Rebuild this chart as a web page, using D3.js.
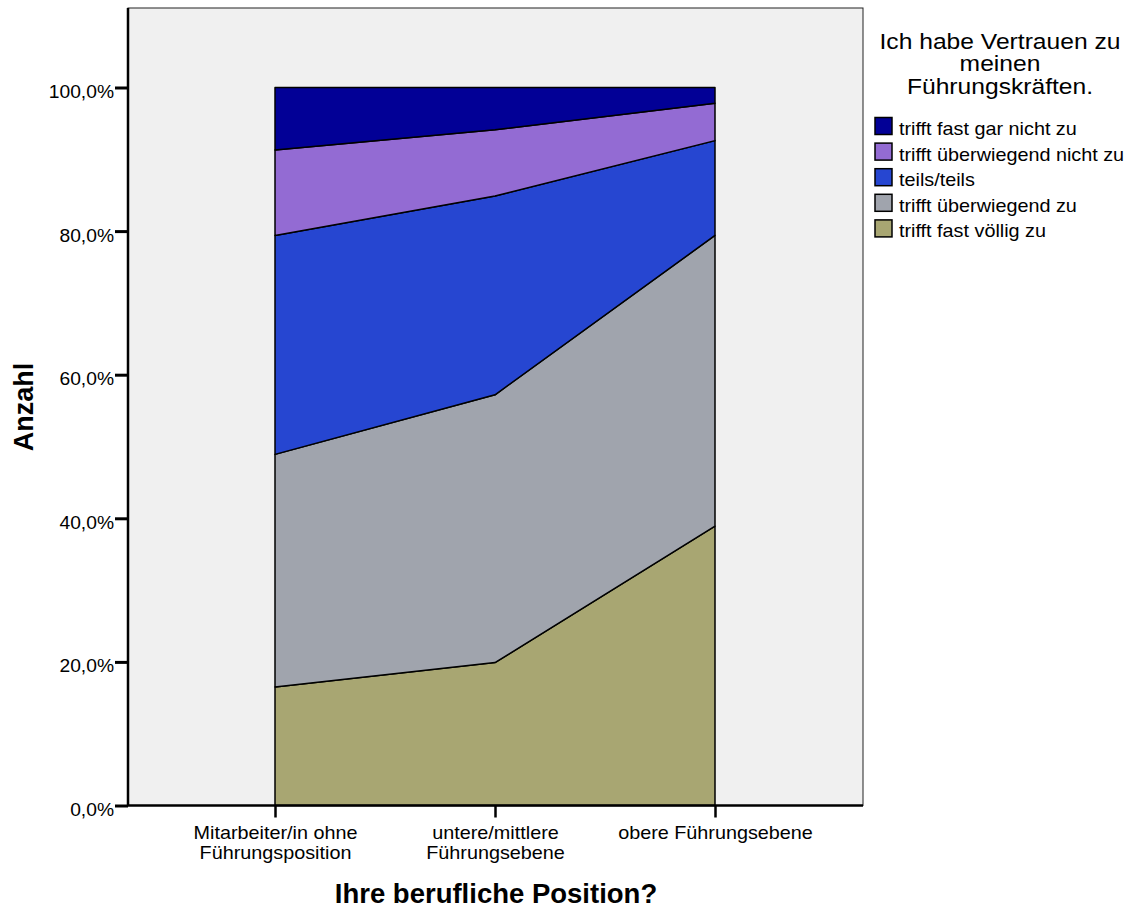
<!DOCTYPE html>
<html><head><meta charset="utf-8">
<script src="https://cdn.jsdelivr.net/npm/d3@7"></script>
<style>body{margin:0;background:#fff;font-family:"Liberation Sans",Arial,sans-serif;}</style>
</head><body><svg id="c" width="1135" height="911"></svg>
<script>
const categories = [["Mitarbeiter/in ohne","Führungsposition"],["untere/mittlere","Führungsebene"],["obere Führungsebene"]];
const seriesNames = ["trifft fast völlig zu","trifft überwiegend zu","teils/teils","trifft überwiegend nicht zu","trifft fast gar nicht zu"];
const seriesColors = ["#a8a672","#a0a4ad","#2646d1","#936bd3","#020096"];
const völligZu = [16.5, 19.9, 38.9];
const überwiegendZu = [32.4, 37.3, 40.5];
const teilsTeils = [30.5, 27.7, 13.2];
const überwiegendNicht = [11.9, 9.2, 5.2];
const fastGarNicht = [8.7, 5.9, 2.2];
const yTicks = [0,20,40,60,80,100];
const legendTitle = ["Ich habe Vertrauen zu","meinen","Führungskräften."];
const xTitle = "Ihre berufliche Position?";
const yTitle = "Anzahl";

const FONT = "Liberation Sans, Arial, sans-serif";
const seriesValues = [völligZu, überwiegendZu, teilsTeils, überwiegendNicht, fastGarNicht];
const rows = categories.map((c,i)=>{const o={i}; seriesNames.forEach((s,k)=>o[s]=seriesValues[k][i]); return o;});
const stack = d3.stack().keys(seriesNames)(rows);

const svg = d3.select("#c");
const L=128, R=863, T=8, B=805.5;
svg.append("rect").attr("x",L).attr("y",T).attr("width",R-L).attr("height",B-T).attr("fill","#f0f0f0").attr("stroke","#222").attr("stroke-width",1);

const x = d3.scalePoint().domain(d3.range(categories.length)).range([275,715]);
const y = d3.scaleLinear().domain([0,100]).range([B,87.5]);

const area = d3.area().x((d,i)=>x(i)).y0(d=>y(d[0])).y1(d=>y(d[1]));
svg.append("g").selectAll("path").data(stack).join("path")
  .attr("d",area).attr("fill",(d,i)=>seriesColors[i]).attr("stroke","#000").attr("stroke-width",1.5).attr("stroke-linejoin","round");

function stext(parent, tx, ty, sx, size, anchor, str, weight){
  return parent.append("text").attr("transform",`translate(${tx},${ty}) scale(${sx},1)`)
    .attr("x",0).attr("y",0).attr("text-anchor",anchor).attr("font-family",FONT)
    .attr("font-size",size).attr("font-weight",weight||"normal").attr("fill","#000").text(str);
}

// y axis
const yAxis = svg.append("g").attr("transform",`translate(${L},0)`)
  .call(d3.axisLeft(y).tickValues(yTicks).tickSize(13).tickFormat(d=>d3.format(".1f")(d).replace(".",",")+"%"));
yAxis.select(".domain").attr("stroke","#000").attr("stroke-width",2.5).attr("d",`M0,${T}V${B}`);
yAxis.selectAll(".tick line").attr("stroke","#000").attr("stroke-width",3);
yAxis.selectAll(".tick text").attr("font-family",FONT).attr("font-size",18.5).attr("fill","#000")
  .attr("x",0).attr("dy",null).attr("y",0).attr("text-anchor","end").attr("transform","translate(-14,10) scale(1.04,1)");

// x axis
const xAxis = svg.append("g").attr("transform",`translate(0,${B})`)
  .call(d3.axisBottom(x).tickSize(12).tickFormat(""));
xAxis.select(".domain").attr("stroke","#000").attr("stroke-width",2.5).attr("d",`M${L},0H${R}`);
xAxis.selectAll(".tick line").attr("stroke","#000").attr("stroke-width",2.5);
xAxis.selectAll(".tick").each(function(d){
  const g=d3.select(this);
  categories[d].forEach((ln,j)=>stext(g,0,33.5+j*19.5,1.1,18,"middle",ln));
});

stext(svg,496,903,1.0,27.5,"middle",xTitle,"bold");
svg.append("text").attr("transform","translate(33,407) rotate(-90)").attr("text-anchor","middle").attr("font-weight","bold").attr("font-size",27).attr("font-family",FONT).text(yTitle);

// legend
const lg = svg.append("g");
legendTitle.forEach((t,j)=>stext(lg,1000,48.5+j*22.8,1.12,22,"middle",t));
const legendOrder = d3.range(seriesNames.length).reverse();
legendOrder.forEach((k,j)=>{
  const yy = 117.5 + j*25.6;
  lg.append("rect").attr("x",875).attr("y",yy).attr("width",17).attr("height",17).attr("fill",seriesColors[k]).attr("stroke","#000").attr("stroke-width",1.5);
  stext(lg,899,yy+17.5,1.1,18,"start",seriesNames[k]);
});
</script></body></html>
